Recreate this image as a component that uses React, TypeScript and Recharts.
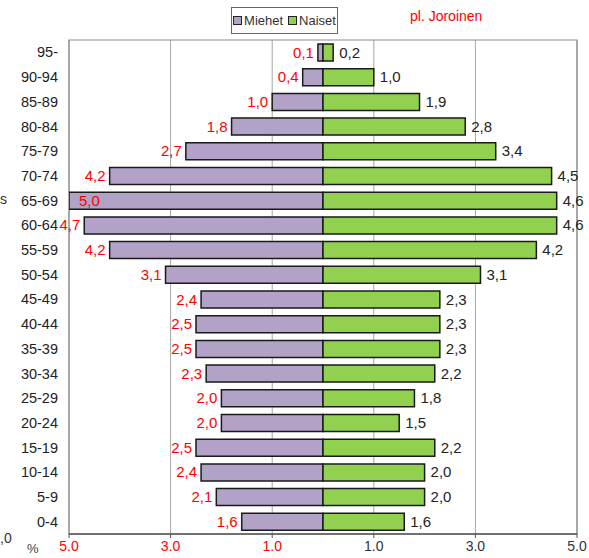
import React from 'react';
import { BarChart, Bar, XAxis, YAxis, CartesianGrid, ReferenceArea, LabelList, Legend } from 'recharts';

const ageGroups = ['95-', '90-94', '85-89', '80-84', '75-79', '70-74', '65-69', '60-64', '55-59', '50-54',
  '45-49', '40-44', '35-39', '30-34', '25-29', '20-24', '15-19', '10-14', '5-9', '0-4'];
const miehet = [0.1, 0.4, 1.0, 1.8, 2.7, 4.2, 5.0, 4.7, 4.2, 3.1, 2.4, 2.5, 2.5, 2.3, 2.0, 2.0, 2.5, 2.4, 2.1, 1.6];
const naiset = [0.2, 1.0, 1.9, 2.8, 3.4, 4.5, 4.6, 4.6, 4.2, 3.1, 2.3, 2.3, 2.3, 2.2, 1.8, 1.5, 2.2, 2.0, 2.0, 1.6];
const xTicks = [-5, -3, -1, 1, 3, 5];

const data = ageGroups.map((age, i) => ({ age, miehet: -miehet[i], naiset: naiset[i] }));

const FONT = '"Liberation Sans", Arial, sans-serif';
const MALE = '#B3A2C7';
const FEMALE = '#92D050';

const fmt = (v: number) => Math.abs(v).toFixed(1).replace('.', ',');

const XTick = (props: any) => {
  const { x, y, payload } = props;
  const v = payload.value;
  return (
    <text x={x} y={y + 11} textAnchor="middle" fontSize={14} fontFamily={FONT} fill={v < 0 ? '#FF0000' : '#333'}>
      {Math.abs(v).toFixed(1)}
    </text>
  );
};

const MaleLabel = (props: any) => {
  const { x, y, width, height, value } = props;
  const end = Math.min(x, x + width);
  const cy = y + height / 2 + 5;
  if (Math.abs(value) >= 5) {
    return <text x={end + 10} y={cy} fontSize={15} fontFamily={FONT} fill="#FF0000">{fmt(value)}</text>;
  }
  return <text x={end - 4} y={cy} textAnchor="end" fontSize={15} fontFamily={FONT} fill="#FF0000">{fmt(value)}</text>;
};

const FemaleLabel = (props: any) => {
  const { x, y, width, height, value } = props;
  const end = Math.max(x, x + width);
  return <text x={end + 6} y={y + height / 2 + 5} fontSize={15} fontFamily={FONT} fill="#222">{fmt(value)}</text>;
};

const LegendBox = () => (
  <div style={{ border: '1px solid #666', width: 107, height: 27, boxSizing: 'border-box', display: 'flex', alignItems: 'center', justifyContent: 'center', fontFamily: FONT, fontSize: 13, color: '#333', background: '#fff' }}>
    <span style={{ display: 'inline-block', width: 7, height: 7, background: MALE, border: '1.5px solid #222', marginRight: 2 }} />
    <span style={{ marginRight: 5 }}>Miehet</span>
    <span style={{ display: 'inline-block', width: 7, height: 7, background: FEMALE, border: '1.5px solid #222', marginRight: 2 }} />
    <span>Naiset</span>
  </div>
);

export default function App() {
  return (
    <div style={{ position: 'absolute', left: 0, top: 0, width: 589, height: 558, background: '#fff' }}>
      <BarChart
        width={589}
        height={558}
        data={data}
        layout="vertical"
        stackOffset="sign"
        barSize={17}
        margin={{ top: 40, right: 12, bottom: 4, left: 0 }}
      >
        <CartesianGrid horizontal={false} stroke="#A6A6A6" strokeWidth={1} />
        <ReferenceArea x1={-5} x2={5} fill="none" stroke="#8C8C8C" strokeWidth={1.2} />
        <XAxis
          type="number"
          domain={[-5, 5]}
          ticks={xTicks}
          allowDataOverflow
          height={20}
          tick={<XTick />}
          tickSize={4}
          axisLine={{ stroke: '#555', strokeWidth: 1.5 }}
          tickLine={{ stroke: '#555' }}
          interval={0}
        />
        <YAxis
          type="category"
          dataKey="age"
          width={69}
          axisLine={false}
          tickLine={false}
          tickSize={0}
          tickMargin={11}
          interval={0}
          tick={{ fontSize: 14.5, fontFamily: FONT, fill: '#222' }}
        />
        <Legend
          layout="horizontal"
          verticalAlign="middle"
          align="center"
          wrapperStyle={{ top: 7, left: 231, width: 107 }}
          content={<LegendBox />}
        />
        <Bar dataKey="miehet" name="Miehet" stackId="a" fill={MALE} stroke="#1a1a1a" strokeWidth={1.5} isAnimationActive={false}>
          <LabelList dataKey="miehet" content={<MaleLabel />} />
        </Bar>
        <Bar dataKey="naiset" name="Naiset" stackId="a" fill={FEMALE} stroke="#1a1a1a" strokeWidth={1.5} isAnimationActive={false}>
          <LabelList dataKey="naiset" content={<FemaleLabel />} />
        </Bar>
      </BarChart>
      <div style={{ position: 'absolute', left: 410, top: 8, fontFamily: FONT, fontSize: 14, color: '#FF0000' }}>pl. Joroinen</div>
      <div style={{ position: 'absolute', left: 27, top: 541, fontFamily: FONT, fontSize: 13, color: '#444' }}>%</div>
      <div style={{ position: 'absolute', left: 0, top: 530, fontFamily: FONT, fontSize: 14, color: '#333' }}>,0</div>
      <div style={{ position: 'absolute', left: 0, top: 191, fontFamily: FONT, fontSize: 14, color: '#333' }}>s</div>
    </div>
  );
}
